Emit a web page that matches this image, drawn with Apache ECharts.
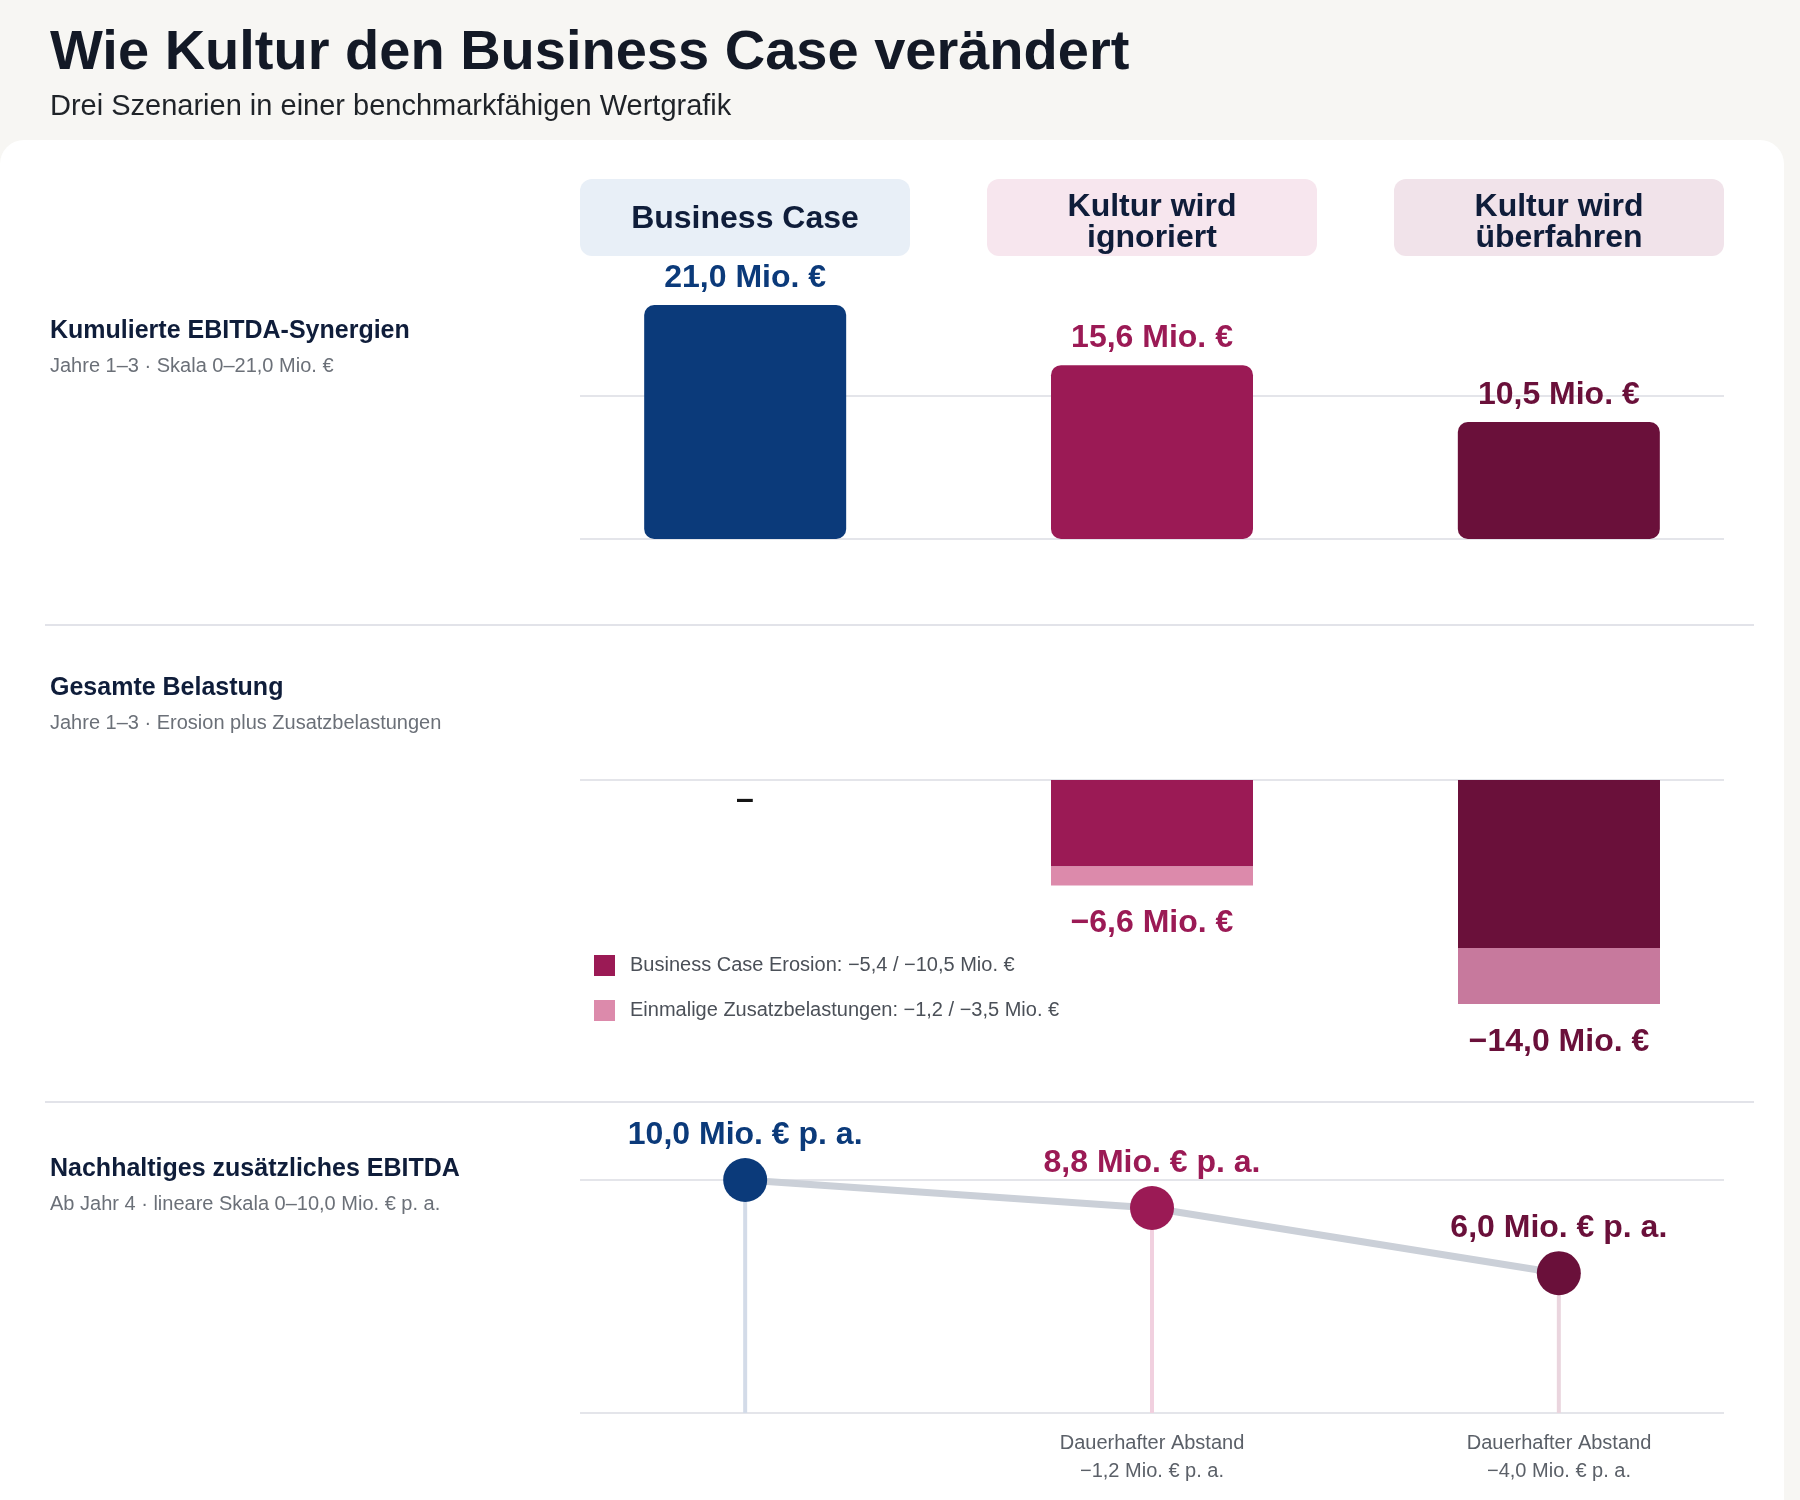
<!DOCTYPE html>
<html>
<head>
<meta charset="utf-8">
<script src="https://cdn.jsdelivr.net/npm/echarts@6/dist/echarts.min.js"></script>
<style>
  html, body { margin: 0; padding: 0; background: #f7f6f3; }
  #chart { width: 1800px; height: 1500px; }
</style>
</head>
<body>
<div id="chart"></div>
<script>
// Daten
var categories = ['Business Case', 'Kultur wird ignoriert', 'Kultur wird überfahren']
var headerLabels = ['Business Case', 'Kultur wird\nignoriert', 'Kultur wird\nüberfahren']
var synergies = [21.0, 15.6, 10.5]
var erosion = [0, -5.4, -10.5]
var oneOff = [0, -1.2, -3.5]
var sustainable = [10.0, 8.8, 6.0]

// Farben
var font = "'Liberation Sans', Arial, Helvetica, sans-serif"
var mainColors = ['#0b3a7a', '#9b1a55', '#6a103a']
var oneOffColors = ['#dc8aab', '#dc8aab', '#c7799d']
var headerBg = ['#e8eff7', '#f7e6ee', '#f1e3ea']
var headerPadTop = [24.5, 13, 13]
var stemColors = ['#d3dbe8', '#f1d0df', '#ead5de']
var totalColors = ['#151515', '#9b1a55', '#6a103a']
var gridLine = '#e4e5ea'

function fmt (v) {
  return v.toFixed(1).replace('.', ',').replace('-', '\u2212')
}

var chart = echarts.init(document.getElementById('chart'))

// x-Achse als Wertachse, damit die Hilfslinien nur von 580 bis 1724 laufen
var hiddenX = function (gridIndex) {
  return {
    type: 'value', gridIndex: gridIndex, min: -0.406, max: 2.406,
    axisLine: { show: false }, axisTick: { show: false },
    axisLabel: { show: false }, splitLine: { show: false }
  }
}
var lineY = function (gridIndex, min, max, interval, colors) {
  return {
    type: 'value', gridIndex: gridIndex, min: min, max: max, interval: interval,
    axisLine: { show: false }, axisTick: { show: false }, axisLabel: { show: false },
    splitLine: { show: true, lineStyle: { color: colors, width: 2 } }
  }
}

var rowTitle = function (text, sub, top) {
  return {
    text: text, subtext: sub, left: 50, top: top, itemGap: 12, padding: 0,
    textStyle: { fontFamily: font, fontSize: 25, lineHeight: 25, fontWeight: 'bold', color: '#0f1d3a' },
    subtextStyle: { fontFamily: font, fontSize: 20, lineHeight: 20, color: '#6b7078' }
  }
}

var options = {
  animation: false,
  backgroundColor: '#f7f6f3',
  textStyle: { fontFamily: font },
  title: [ {
    text: 'Wie Kultur den Business Case verändert',
    subtext: 'Drei Szenarien in einer benchmarkfähigen Wertgrafik',
    left: 50, top: 26, itemGap: 10, padding: 0,
    textStyle: { fontFamily: font, fontSize: 56, lineHeight: 56, fontWeight: 'bold', color: '#131926' },
    subtextStyle: { fontFamily: font, fontSize: 29, lineHeight: 29, color: '#1f2328' }
  },
  rowTitle('Kumulierte EBITDA-Synergien', 'Jahre 1–3 · Skala 0–21,0 Mio. €', 319),
  rowTitle('Gesamte Belastung', 'Jahre 1–3 · Erosion plus Zusatzbelastungen', 676),
  rowTitle('Nachhaltiges zusätzliches EBITDA', 'Ab Jahr 4 · lineare Skala 0–10,0 Mio. € p. a.', 1157)
  ],
  graphic: [ {
    type: 'rect', z: -10, silent: true,
    shape: { x: 0, y: 140, width: 1784, height: 1400, r: 24 },
    style: { fill: '#ffffff' }
  }, {
    type: 'line', silent: true,
    shape: { x1: 45, y1: 625, x2: 1754, y2: 625 },
    style: { stroke: '#e2e3e9', lineWidth: 2 }
  }, {
    type: 'line', silent: true,
    shape: { x1: 45, y1: 1102, x2: 1754, y2: 1102 },
    style: { stroke: '#e2e3e9', lineWidth: 2 }
  } ],
  legend: {
    left: 594, top: 955, orient: 'vertical', selectedMode: false, padding: 0,
    itemWidth: 21, itemHeight: 21, itemGap: 24, icon: 'rect',
    data: ['Business Case Erosion', 'Einmalige Zusatzbelastungen'],
    textStyle: { fontFamily: font, fontSize: 20, color: '#4b5058', padding: [0, 0, 0, 10] },
    formatter: function (name) {
      var vals = name === 'Business Case Erosion' ? erosion : oneOff
      return name + ': ' + vals.slice(1).map(fmt).join(' / ') + ' Mio. €'
    }
  },
  grid: [
    { left: 541.5, width: 1221, top: 260, height: 1153 },
    { left: 580, width: 1144, top: 305, height: 234 },
    { left: 580, width: 1144, top: 780, height: 224 },
    { left: 580, width: 1144, top: 1180, height: 233 },
    { left: 541.5, width: 1221, top: 780, height: 224 }
  ],
  xAxis: [ {
    type: 'category', gridIndex: 0, position: 'top',
    data: headerLabels.map(function (t, i) {
      var n = t.split('\n').length
      var pt = headerPadTop[i]
      return { value: t, textStyle: { backgroundColor: headerBg[i], padding: [pt, 0, 77 - n * 31 - pt, 0] } }
    }),
    axisLine: { show: false }, axisTick: { show: false }, splitLine: { show: false },
    axisLabel: {
      interval: 0, margin: 4, fontFamily: font, fontSize: 32, fontWeight: 'bold', lineHeight: 31,
      color: '#0f1d3a', width: 330, align: 'center', borderRadius: 12, overflow: 'none'
    }
  }, {
    type: 'category', gridIndex: 0, position: 'bottom', data: categories,
    axisLine: { show: false }, axisTick: { show: false }, splitLine: { show: false },
    axisLabel: {
      interval: 0, margin: 16, fontFamily: font, fontSize: 20, lineHeight: 28, color: '#5b6068',
      formatter: function (v, i) {
        if (i === 0) return ''
        return 'Dauerhafter Abstand\n' + fmt(sustainable[i] - sustainable[0]) + ' Mio. € p. a.'
      }
    }
  },
  hiddenX(1), hiddenX(2), hiddenX(3),
  { type: 'category', gridIndex: 4, data: categories, show: false }
  ],
  yAxis: [
    { type: 'value', gridIndex: 0, min: 0, max: 1, show: false },
    lineY(1, 0, 21, 12.9, [gridLine, gridLine, 'rgba(0,0,0,0)']),
    lineY(2, -14, 0, 14, ['rgba(0,0,0,0)', gridLine]),
    lineY(3, 0, 10, 10, [gridLine, gridLine]),
    { type: 'value', gridIndex: 4, min: -14, max: 0, show: false }
  ],
  series: [ {
    name: 'Kumulierte EBITDA-Synergien',
    type: 'bar', xAxisIndex: 2, yAxisIndex: 1, barWidth: 202,
    itemStyle: { borderRadius: 10 },
    label: {
      show: true, position: 'top', distance: 11, fontFamily: font, fontSize: 32,
      fontWeight: 'bold', lineHeight: 32,
      formatter: function (p) { return fmt(p.value[1]) + ' Mio. €' }
    },
    data: synergies.map(function (v, i) {
      return { value: [i, v], itemStyle: { color: mainColors[i] }, label: { color: mainColors[i] } }
    })
  }, {
    name: 'Business Case Erosion',
    type: 'bar', xAxisIndex: 5, yAxisIndex: 4, barWidth: 202, stack: 'belastung',
    itemStyle: { color: mainColors[1] },
    data: erosion.map(function (v, i) {
      return { value: v, itemStyle: { color: mainColors[i] } }
    })
  }, {
    name: 'Einmalige Zusatzbelastungen',
    type: 'bar', xAxisIndex: 5, yAxisIndex: 4, barWidth: 202, stack: 'belastung',
    itemStyle: { color: oneOffColors[0] },
    label: {
      show: true, position: 'bottom', fontFamily: font, fontSize: 32,
      fontWeight: 'bold', lineHeight: 32,
      formatter: function (p) {
        var total = erosion[p.dataIndex] + oneOff[p.dataIndex]
        return total === 0 ? '–' : fmt(total) + ' Mio. €'
      }
    },
    data: oneOff.map(function (v, i) {
      var total = erosion[i] + v
      return {
        value: v,
        itemStyle: { color: oneOffColors[i] },
        label: { color: totalColors[i], distance: total === 0 ? 4 : 22 }
      }
    })
  }, {
    name: 'Stiele',
    type: 'bar', xAxisIndex: 4, yAxisIndex: 3, barWidth: 4, silent: true, z: 1,
    data: sustainable.map(function (v, i) {
      return { value: [i, v], itemStyle: { color: stemColors[i] } }
    })
  }, {
    name: 'Nachhaltiges zusätzliches EBITDA',
    type: 'line', xAxisIndex: 4, yAxisIndex: 3, z: 3,
    symbol: 'circle', symbolSize: 44,
    lineStyle: { color: '#cbd0d8', width: 7 },
    label: {
      show: true, position: 'top', distance: 7, fontFamily: font, fontSize: 32,
      fontWeight: 'bold', lineHeight: 32,
      formatter: function (p) { return fmt(p.value[1]) + ' Mio. € p. a.' }
    },
    data: sustainable.map(function (v, i) {
      return { value: [i, v], itemStyle: { color: mainColors[i] }, label: { color: mainColors[i] } }
    })
  } ]
}

chart.setOption(options)
</script>
</body>
</html>
